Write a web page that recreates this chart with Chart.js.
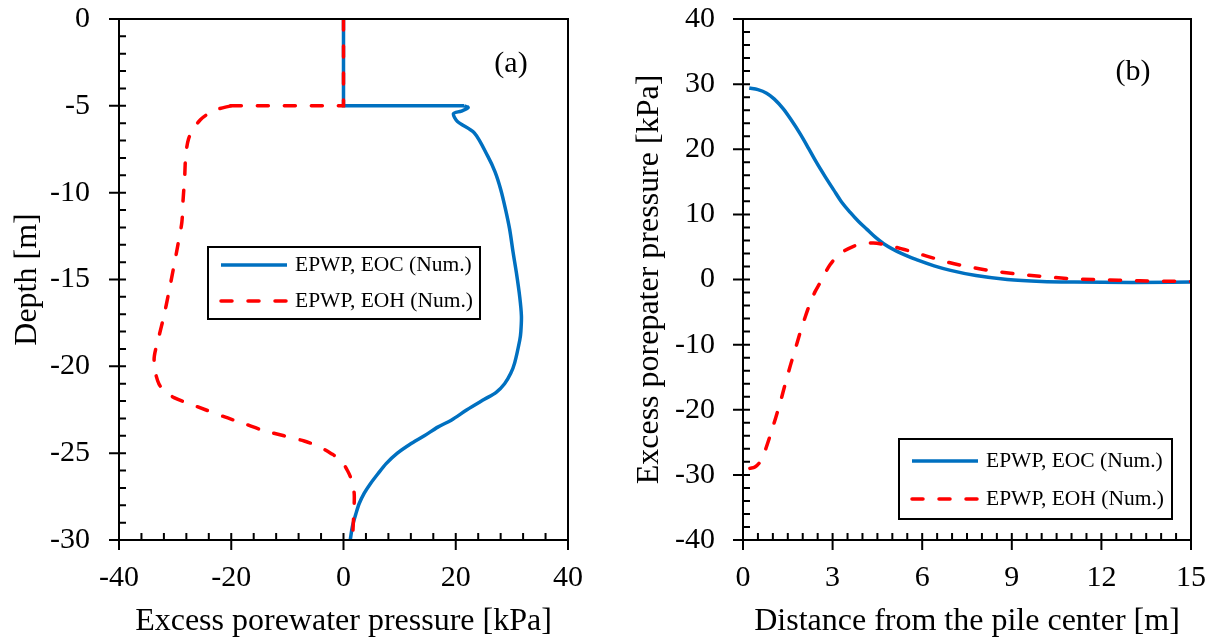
<!DOCTYPE html>
<html>
<head>
<meta charset="utf-8">
<script src="https://cdn.jsdelivr.net/npm/chart.js@4"></script>
<style>
  body { margin: 0; background: #fff; }
  .panel { position: absolute; top: 0; width: 608px; height: 641px; }
</style>
</head>
<body>
<div class="panel" style="left:0"><canvas id="depthChart" width="608" height="641"></canvas></div>
<div class="panel" style="left:608px"><canvas id="radialChart" width="608" height="641"></canvas></div>
<script>
// (a) excess porewater pressure [kPa] against depth [m]
// the first points (up to the *Bend index) are the straight legs at depth 0..-5
const eocPressure = [0, 0, 21.5, 22.2, 21.0, 19.6, 20.3, 23.3, 25.7, 27.0, 28.0, 28.9, 29.6, 30.2, 30.8, 31.4, 31.7, 31.6, 31.4, 30.5, 29.8, 28.7, 27.2, 25.1, 22.0, 19.2, 16.8, 14.4, 11.8, 9.6, 7.6, 6.1, 4.7, 3.7, 2.8, 2.2, 1.6, 1.2];
const eocDepth = [0, -5, -5, -5.1, -5.3, -5.45, -5.9, -6.56, -7.9, -8.8, -9.8, -11, -12.1, -13.4, -14.6, -16, -17.1, -18, -18.5, -19.8, -20.4, -21.0, -21.5, -21.9, -22.5, -23.1, -23.5, -24.0, -24.5, -25.0, -25.6, -26.2, -26.8, -27.3, -27.9, -28.5, -29.2, -30];
const eocBend = 2;
const eohPressure = [0, 0, -20.1, -22.5, -24.3, -25.5, -26.7, -27.6, -28.1, -28.3, -28.6, -28.8, -29.5, -30.2, -31.1, -32.0, -32.9, -33.7, -33.7, -33.5, -32.9, -32.0, -30.2, -27.9, -24.6, -21.3, -17.7, -14.2, -10.6, -7.0, -4.5, -2.3, -0.5, 0.7, 1.5, 1.9, 1.9, 1.8, 1.6];
const eohDepth = [0, -5, -5, -5.2, -5.5, -5.8, -6.3, -6.9, -7.8, -9.1, -10.5, -11.7, -13, -14.2, -15.7, -17.1, -18.3, -19.4, -20.0, -20.4, -21.0, -21.4, -21.8, -22.1, -22.5, -22.9, -23.3, -23.7, -24.0, -24.3, -24.6, -25.0, -25.4, -26.0, -26.6, -27.3, -28, -28.7, -30];
const eohBend = 2;

// (b) excess porewater pressure [kPa] against distance from the pile [m]
const eocDistance = [0.21, 0.5, 0.79, 1.05, 1.35, 1.6, 1.91, 2.2, 2.47, 2.75, 3.03, 3.3, 3.59, 3.87, 4.15, 4.43, 4.71, 5.3, 5.83, 6.4, 6.95, 7.8, 8.85, 10, 11.1, 13, 15];
const eocRadial = [29.4, 29.15, 28.6, 27.7, 26.2, 24.6, 22.4, 20.1, 17.9, 15.8, 13.8, 11.9, 10.3, 8.9, 7.7, 6.5, 5.5, 4.0, 3.0, 2.1, 1.4, 0.6, 0.0, -0.3, -0.4, -0.45, -0.4];
const eohDistance = [0.23, 0.4, 0.57, 0.73, 0.9, 1.07, 1.24, 1.41, 1.58, 1.75, 1.91, 2.08, 2.25, 2.41, 2.58, 2.75, 2.92, 3.14, 3.36, 3.7, 4.03, 4.36, 4.7, 5.4, 6.15, 6.9, 7.72, 8.55, 9.39, 10.2, 11.07, 12.2, 13.3, 15];
const eohRadial = [-29.0, -28.8, -28.0, -26.4, -24.1, -21.6, -19.0, -16.1, -13.3, -10.7, -8.2, -5.8, -3.6, -1.9, -0.5, 1.0, 2.3, 3.5, 4.3, 5.1, 5.5, 5.6, 5.4, 4.6, 3.6, 2.6, 1.8, 1.2, 0.75, 0.4, 0.1, -0.05, -0.2, -0.3];

const seriesLabels = ['EPWP, EOC (Num.)', 'EPWP, EOH (Num.)'];

const SERIF = '"Liberation Serif", "Times New Roman", serif';
const seriesColors = ['#0070C0', '#FF0000'];

Chart.defaults.font.family = SERIF;
Chart.defaults.color = '#000';

const zip = (xs, ys) => xs.map((x, i) => ({ x: x, y: ys[i] }));

// frame, inward minor ticks and crossing major ticks, as in the original figure
const axesFrame = {
  id: 'axesFrame',
  afterDatasetsDraw(chart, args, opts) {
    const { ctx, chartArea: a, scales: { x, y } } = chart;
    const isMajor = (v, step) => Math.abs(v / step - Math.round(v / step)) < 1e-6;
    ctx.save();
    ctx.strokeStyle = '#000';
    ctx.lineWidth = 2;
    ctx.beginPath();
    ctx.rect(a.left, a.top, a.right - a.left, a.bottom - a.top);
    for (let v = x.min; v <= x.max + 1e-9; v += opts.xMinor) {
      const px = x.getPixelForValue(v);
      ctx.moveTo(px, a.bottom + (isMajor(v, opts.xMajor) ? 10 : 0));
      ctx.lineTo(px, a.bottom - 7);
    }
    for (let v = y.min; v <= y.max + 1e-9; v += opts.yMinor) {
      const py = y.getPixelForValue(v);
      ctx.moveTo(a.left - (isMajor(v, opts.yMajor) ? 10 : 0), py);
      ctx.lineTo(a.left + 7, py);
    }
    ctx.stroke();
    ctx.font = '30px ' + SERIF;
    ctx.fillStyle = '#000';
    ctx.textAlign = 'center';
    ctx.textBaseline = 'middle';
    ctx.fillText(opts.tag, opts.tagX, opts.tagY);
    ctx.restore();
  }
};

const boxLegend = {
  id: 'boxLegend',
  afterDraw(chart, args, opts) {
    const { ctx } = chart;
    ctx.save();
    ctx.fillStyle = '#fff';
    ctx.fillRect(opts.x, opts.y, opts.w, opts.h);
    ctx.strokeStyle = '#000';
    ctx.lineWidth = 2;
    ctx.strokeRect(opts.x, opts.y, opts.w, opts.h);
    opts.entries.forEach((dsIndex, i) => {
      const ds = chart.data.datasets[dsIndex];
      const rowY = opts.y + opts.firstRow + i * opts.rowGap;
      ctx.strokeStyle = ds.borderColor;
      ctx.lineWidth = ds.borderWidth;
      ctx.lineCap = ds.borderCapStyle || 'butt';
      ctx.setLineDash(ds.borderDash || []);
      ctx.beginPath();
      ctx.moveTo(opts.x + 13, rowY);
      ctx.lineTo(opts.x + 79, rowY);
      ctx.stroke();
      ctx.setLineDash([]);
      ctx.fillStyle = '#000';
      ctx.font = '21.5px ' + SERIF;
      ctx.textBaseline = 'middle';
      ctx.fillText(ds.label, opts.x + 87, rowY);
    });
    ctx.restore();
  }
};

function series(k, data, extra) {
  const ds = {
    label: seriesLabels[k],
    data: data,
    showLine: true,
    pointRadius: 0,
    borderWidth: 3.5,
    borderColor: seriesColors[k],
    fill: false,
    order: k === 1 ? 0 : 1
  };
  if (k === 1) {
    ds.borderDash = [11, 16];
    ds.borderCapStyle = 'round';
  }
  return Object.assign(ds, extra);
}

function axis(min, max, step, titleText, titlePad, tickPad, fitSize, horizontal) {
  return {
    type: 'linear',
    min: min,
    max: max,
    ticks: { stepSize: step, padding: tickPad, font: { size: 30 }, color: '#000' },
    grid: { display: false, drawTicks: false },
    border: { display: false },
    title: { display: true, text: titleText, font: { size: 32 }, color: '#000', padding: titlePad },
    afterFit(scale) {
      if (horizontal) {
        scale.height = fitSize;
        scale.paddingLeft = 0;
        scale.paddingRight = 0;
      } else {
        scale.width = fitSize;
        scale.paddingTop = 0;
        scale.paddingBottom = 0;
      }
    }
  };
}

const eocA = zip(eocPressure, eocDepth);
const eohA = zip(eohPressure, eohDepth);

new Chart(document.getElementById('depthChart'), {
  type: 'scatter',
  data: {
    datasets: [
      series(0, eocA.slice(eocBend), { tension: 0.3 }),
      series(1, eohA.slice(eohBend), { tension: 0.3 }),
      series(0, eocA.slice(0, eocBend + 1), { tension: 0 }),
      series(1, eohA.slice(0, eohBend + 1), { tension: 0 })
    ]
  },
  options: {
    responsive: false,
    animation: false,
    layout: { padding: { left: 0, right: 40, top: 19, bottom: 0 } },
    scales: {
      x: axis(-40, 40, 20, 'Excess porewater pressure [kPa]', { top: 0, bottom: 0 }, 20, 101, true),
      y: axis(-30, 0, 5, 'Depth [m]', { top: 8, bottom: 0 }, 29, 119, false)
    },
    plugins: {
      legend: { display: false },
      tooltip: { enabled: false },
      axesFrame: { xMajor: 20, xMinor: 4, yMajor: 5, yMinor: 1, tag: '(a)', tagX: 511, tagY: 64 },
      boxLegend: { entries: [0, 1], x: 208, y: 247, w: 272, h: 72, firstRow: 18, rowGap: 36 }
    }
  },
  plugins: [axesFrame, boxLegend]
});

new Chart(document.getElementById('radialChart'), {
  type: 'scatter',
  data: {
    datasets: [
      series(0, zip(eocDistance, eocRadial), { cubicInterpolationMode: 'monotone' }),
      series(1, zip(eohDistance, eohRadial), { cubicInterpolationMode: 'monotone' })
    ]
  },
  options: {
    responsive: false,
    animation: false,
    layout: { padding: { left: 0, right: 25, top: 19, bottom: 0 } },
    scales: {
      x: axis(0, 15, 3, 'Distance from the pile center [m]', { top: 0, bottom: 0 }, 20, 101, true),
      y: axis(-40, 40, 10, 'Excess porepater pressure [kPa]', { top: 22, bottom: 0 }, 28, 135, false)
    },
    plugins: {
      legend: { display: false },
      tooltip: { enabled: false },
      axesFrame: { xMajor: 3, xMinor: 0.5, yMajor: 10, yMinor: 2, tag: '(b)', tagX: 525, tagY: 72 },
      boxLegend: { entries: [0, 1], x: 291, y: 439, w: 273, h: 80, firstRow: 22, rowGap: 38 }
    }
  },
  plugins: [axesFrame, boxLegend]
});
</script>
</body>
</html>
